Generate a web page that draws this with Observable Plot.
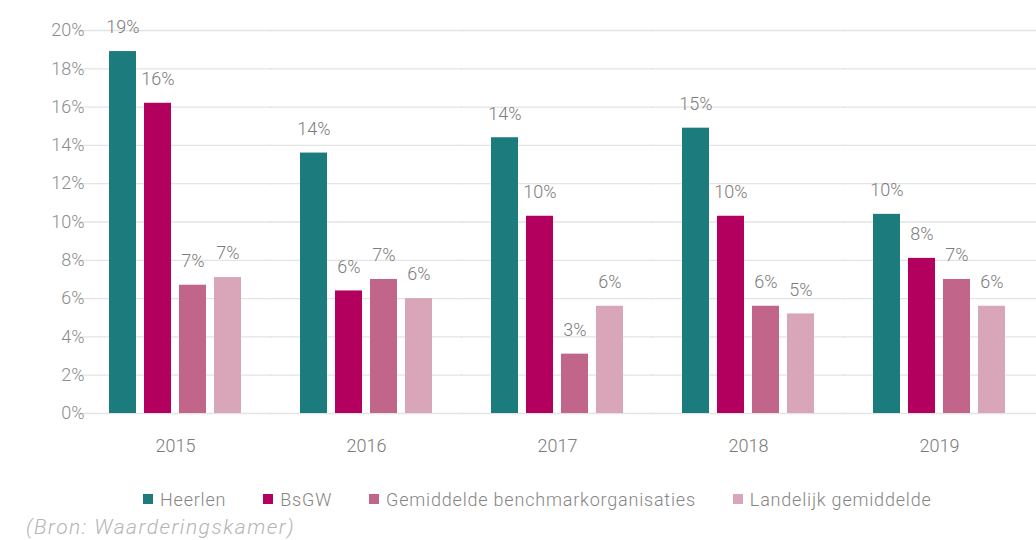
<!DOCTYPE html>
<html><head><meta charset="utf-8">
<script src="https://cdn.jsdelivr.net/npm/d3@7"></script>
<script src="https://cdn.jsdelivr.net/npm/@observablehq/plot@0.6"></script>
<style>
body{margin:0;background:#fff;font-family:"Roboto",sans-serif;}
#wrap{width:1036px;height:540px;position:relative;overflow:hidden;}
#legend{position:absolute;left:143px;top:487px;}
#legend .lg-swatches-wrap{display:flex;align-items:center;min-height:24px;}
#legend .lg-swatch{margin-right:37px !important;letter-spacing:0.8px;}
#legend .lg-swatch svg{margin-right:7px !important;}
#caption{position:absolute;left:26px;top:515px;font-style:italic;font-weight:300;font-size:21px;color:#b5b5b5;font-family:"Roboto",sans-serif;letter-spacing:1.5px;}
svg text{font-weight:300;}
</style></head>
<body><div id="wrap"><div id="chart"></div><div id="legend"></div><div id="caption">(Bron: Waarderingskamer)</div></div>
<script>
const years = ["2015", "2016", "2017", "2018", "2019"];
const series = ["Heerlen", "BsGW", "Gemiddelde benchmarkorganisaties", "Landelijk gemiddelde"];
const heerlen = [18.9, 13.6, 14.4, 14.9, 10.4];
const bsgw = [16.2, 6.4, 10.3, 10.3, 8.1];
const gemiddeldeBenchmark = [6.7, 7.0, 3.1, 5.6, 7.0];
const landelijkGemiddelde = [7.1, 6.0, 5.6, 5.2, 5.6];
const colors = ["#1b7b7d", "#b3005e", "#c1668a", "#d9a6b9"];
const yTicks = [0, 2, 4, 6, 8, 10, 12, 14, 16, 18, 20];

const seriesValues = [heerlen, bsgw, gemiddeldeBenchmark, landelijkGemiddelde];
const data = [];
years.forEach((year, i) => {
  series.forEach((s, j) => data.push({year, series: s, value: seriesValues[j][i]}));
});

const font = "Roboto, sans-serif";
const chart = Plot.plot({
  width: 1036,
  height: 470,
  marginLeft: 77,
  marginRight: 0,
  marginTop: 30,
  marginBottom: 57,
  style: {fontFamily: font, fontSize: "18px", color: "#888", background: "#fff"},
  fx: {domain: years, paddingInner: 0.31, paddingOuter: 0.155, label: null},
  x: {domain: series, paddingInner: 0.24, paddingOuter: 0, axis: null},
  y: {domain: [0, 20], label: null},
  color: {domain: series, range: colors},
  marks: [
    Plot.ruleY(yTicks, {stroke: "#e4e4e4", strokeWidth: 1.3, insetLeft: -31, insetRight: -31}),
    Plot.axisY({ticks: yTicks, tickFormat: d => d + "%", tickSize: 0, tickPadding: 25, label: null, fill: "#8c8c8c", fontSize: 18}),
    Plot.axisFx({anchor: "bottom", tickSize: 0, tickPadding: 26, label: null, fill: "#7a7a7a", fontSize: 18}),
    Plot.barY(data, {fx: "year", x: "series", y: "value", fill: "series"}),
    Plot.text(data, {fx: "year", x: "series", y: "value", text: d => Math.round(d.value) + "%", dy: -24, fill: "#7d7d7d", fontSize: 18})
  ]
});
document.getElementById("chart").appendChild(chart);

const legend = Plot.legend({
  color: {domain: series, range: colors},
  className: "lg",
  swatchSize: 10,
  style: {fontFamily: font, fontSize: "18px", fontWeight: 300, color: "#858585", marginLeft: "0px"}
});
document.getElementById("legend").appendChild(legend);
</script>
</body></html>
